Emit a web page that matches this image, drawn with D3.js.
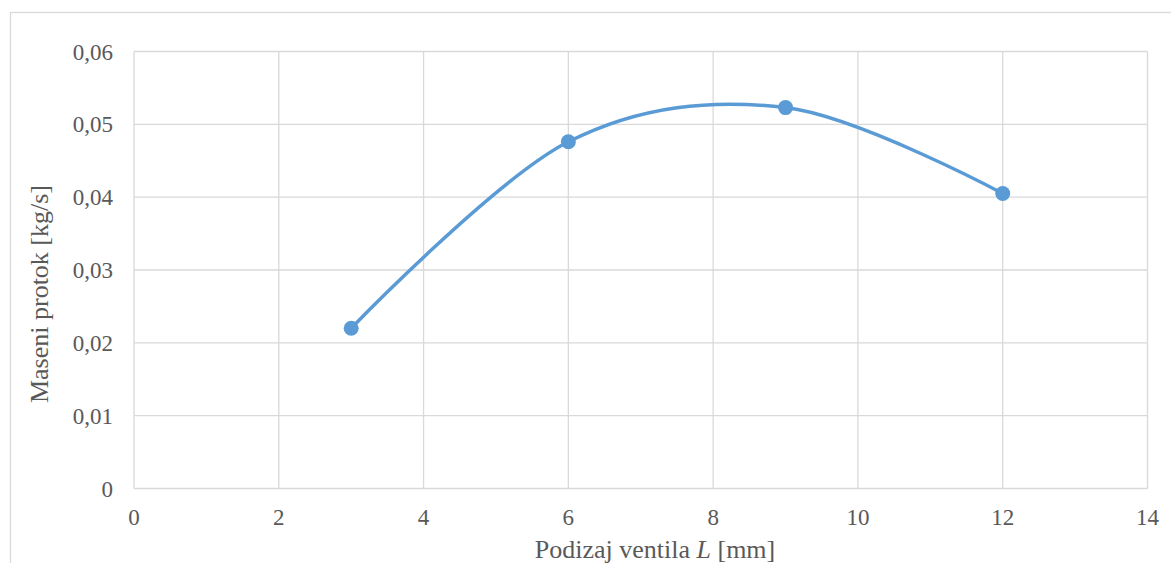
<!DOCTYPE html>
<html lang="hr">
<head>
  <meta charset="UTF-8">
  <title>Maseni protok</title>
  <style>
    body { margin: 0; overflow: hidden; background: #fff; }
    .grid line { stroke: #d9d9d9; stroke-width: 1.3px; }
  </style>
</head>
<body>
  <script src="https://d3js.org/d3.v7.min.js"></script>
  <script>
    // podizaj ventila [mm] i maseni protok [kg/s]
    const liftMm = [3, 6, 9, 12];
    const massFlow = [0.022, 0.0476, 0.0523, 0.0405];
    const xTicks = [0, 2, 4, 6, 8, 10, 12, 14];
    const yTicks = [0, 0.01, 0.02, 0.03, 0.04, 0.05, 0.06];

    const width = 1171, height = 563;
    const serif = "'Liberation Serif', 'Times New Roman', serif";
    const svg = d3.select("body").append("svg").attr("width", width).attr("height", height);

    // okvir grafikona
    svg.append("rect")
      .attr("x", 10.5).attr("y", 12.5).attr("width", 1200).attr("height", 700)
      .attr("fill", "none").attr("stroke", "#d9d9d9").attr("stroke-width", 1.3);

    const x = d3.scaleLinear().domain([0, 14]).range([134, 1147.5]);
    const y = d3.scaleLinear().domain([0, 0.06]).range([488.5, 51.5]);
    const fmt = d => d === 0 ? "0" : d3.format(".2f")(d).replace(".", ",");

    const grid = svg.append("g").attr("class", "grid");
    grid.selectAll(".gx").data(xTicks).enter().append("line")
      .attr("x1", d => x(d)).attr("x2", d => x(d))
      .attr("y1", y(0)).attr("y2", y(0.06));
    grid.selectAll(".gy").data(yTicks).enter().append("line")
      .attr("x1", x(0)).attr("x2", x(14))
      .attr("y1", d => y(d)).attr("y2", d => y(d));

    svg.append("g").selectAll("text").data(yTicks).enter().append("text")
      .attr("x", 113).attr("y", d => y(d)).attr("dy", "0.35em")
      .attr("font-family", serif).attr("fill", "#595959")
      .attr("text-anchor", "end").attr("font-size", "23px").text(fmt);

    svg.append("g").selectAll("text").data(xTicks).enter().append("text")
      .attr("x", d => x(d)).attr("y", 517).attr("dy", "0.35em")
      .attr("font-family", serif).attr("fill", "#595959")
      .attr("text-anchor", "middle").attr("font-size", "23px").text(d => d);

    const xt = svg.append("text")
      .attr("x", 655).attr("y", 558)
      .attr("font-family", serif).attr("fill", "#595959")
      .attr("text-anchor", "middle").attr("font-size", "26px");
    xt.append("tspan").text("Podizaj ventila ");
    xt.append("tspan").attr("font-style", "italic").text("L");
    xt.append("tspan").text(" [mm]");

    svg.append("text")
      .attr("transform", "translate(48,294) rotate(-90)")
      .attr("font-family", serif).attr("fill", "#595959")
      .attr("text-anchor", "middle").attr("font-size", "26px")
      .text("Maseni protok [kg/s]");

    const pts = liftMm.map((v, i) => [v, massFlow[i]]);
    const line = d3.line().x(d => x(d[0])).y(d => y(d[1])).curve(d3.curveCardinal.tension(0));

    svg.append("path").datum(pts)
      .attr("d", line).attr("fill", "none")
      .attr("stroke", "#5b9bd5").attr("stroke-width", 3.5).attr("stroke-linecap", "round");

    svg.append("g").selectAll("circle").data(pts).enter().append("circle")
      .attr("cx", d => x(d[0])).attr("cy", d => y(d[1])).attr("r", 7.5)
      .attr("fill", "#5b9bd5");
  </script>
</body>
</html>
